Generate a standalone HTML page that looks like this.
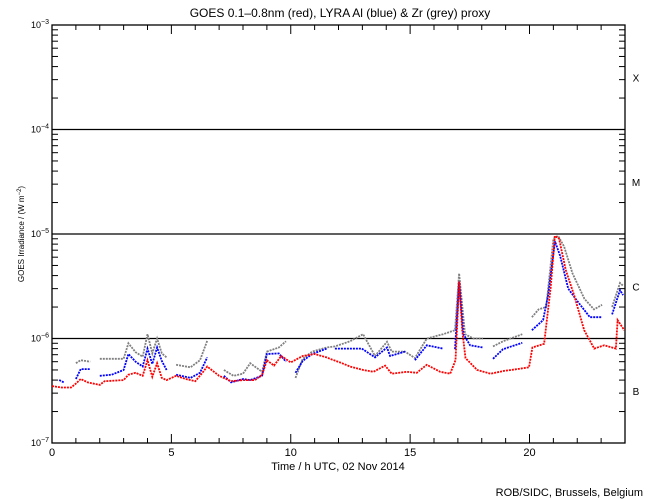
<!DOCTYPE html>
<html><head><meta charset="utf-8"><style>
body{margin:0;background:#fff}
svg{display:block;font-family:"Liberation Sans",sans-serif}
</style></head><body>
<svg id="chart" width="650" height="500" viewBox="0 0 650 500">
<g id="axes"></g><g id="series"></g>
<text x="340" y="17" font-size="12" text-anchor="middle">GOES 0.1–0.8nm (red), LYRA Al (blue) &amp; Zr (grey) proxy</text>
<text x="338" y="470" font-size="11" text-anchor="middle">Time / h UTC, 02 Nov 2014</text>
<text transform="translate(24,234) rotate(-90)" font-size="8" text-anchor="middle">GOES Irradiance / (W m<tspan dy="-3" font-size="6">−2</tspan><tspan dy="3">)</tspan></text>
<text x="643" y="496" font-size="11" text-anchor="end">ROB/SIDC, Brussels, Belgium</text>
</svg>
<script>
// Data (hours, W/m^2); null = gap
const redH=[0,0.4,0.8,1.0,1.2,1.5,2,2.2,3,3.2,3.5,3.8,4.0,4.2,4.4,4.6,4.8,5.2,5.6,6,6.3,6.5,7,7.5,8,8.5,8.8,9.0,9.3,9.6,10,10.5,11,11.5,11.64,12.06,12.48,13.04,13.46,13.95,14.23,14.86,15.28,15.7,16.26,16.68,16.9,17.06,17.18,17.32,17.81,18.37,18.93,19.49,19.98,20.12,20.61,20.89,21.06,21.24,21.52,21.87,22.29,22.71,23.13,23.62,23.69,23.97];
const redV=[3.5e-7,3.4e-7,3.4e-7,3.7e-7,4.1e-7,3.8e-7,3.6e-7,3.9e-7,4.0e-7,4.5e-7,4.7e-7,4.4e-7,6.2e-7,4.3e-7,5.8e-7,4.2e-7,4.0e-7,4.4e-7,4.1e-7,3.9e-7,4.7e-7,5.4e-7,4.4e-7,3.9e-7,4.0e-7,4.0e-7,4.5e-7,6.2e-7,5.5e-7,6.8e-7,5.9e-7,6.8e-7,7.1e-7,6.6e-7,6.4e-7,5.9e-7,5.4e-7,5.0e-7,4.8e-7,5.5e-7,4.6e-7,4.8e-7,4.7e-7,5.6e-7,4.8e-7,4.6e-7,6.2e-7,3.5e-6,1.2e-6,6.5e-7,5.0e-7,4.6e-7,4.9e-7,5.1e-7,5.3e-7,8.2e-7,8.9e-7,3.1e-6,9.6e-6,9.0e-6,4.5e-6,2.6e-6,1.2e-6,8.0e-7,8.6e-7,8.0e-7,1.5e-6,1.2e-6];
const blueH=[0.3,0.5,null,1.0,1.2,1.6,null,2.0,2.5,3.0,3.2,3.5,3.8,4.0,4.2,4.4,4.6,4.8,null,5.2,5.8,6.2,6.5,null,7.2,7.5,8.0,8.3,8.8,9.0,9.5,9.8,null,10.2,10.5,10.9,11.5,null,11.85,12.98,13.53,14.03,14.16,14.79,null,15.2,15.7,16.38,null,16.88,17.05,17.23,17.51,18.05,null,18.47,18.89,19.7,null,20.1,20.57,20.78,21.07,21.28,21.62,21.99,22.53,23.04,null,23.46,23.79,23.92];
const blueV=[4.0e-7,3.8e-7,null,4.1e-7,5.1e-7,5.1e-7,null,4.4e-7,4.5e-7,5.0e-7,7.1e-7,6.0e-7,5.4e-7,8.0e-7,5.7e-7,8.2e-7,6.1e-7,5.0e-7,null,4.5e-7,4.2e-7,4.7e-7,6.6e-7,null,4.4e-7,3.8e-7,4.1e-7,4.0e-7,4.4e-7,7.1e-7,7.2e-7,6.0e-7,null,4.7e-7,6.1e-7,7.1e-7,8.0e-7,null,8.0e-7,8.0e-7,6.6e-7,8.2e-7,6.8e-7,7.5e-7,null,6.2e-7,8.6e-7,8.0e-7,null,7.9e-7,3.5e-6,1.1e-6,8.6e-7,8.2e-7,null,6.4e-7,7.9e-7,9.1e-7,null,1.2e-6,1.5e-6,2.6e-6,8.5e-6,6.2e-6,3.0e-6,2.3e-6,1.6e-6,1.6e-6,null,1.7e-6,2.9e-6,2.6e-6];
const greyH=[0.5,null,1.0,1.2,1.6,null,2.0,3.0,3.2,3.5,3.8,4.0,4.2,4.4,4.6,4.8,null,5.2,5.8,6.2,6.5,null,7.2,7.6,8.0,8.3,8.8,9.0,9.5,9.8,null,10.2,10.5,10.9,11.5,11.85,12.48,13.03,13.53,14.03,14.23,14.79,15.2,15.7,16.38,16.88,17.05,17.3,17.65,18.05,null,18.47,18.89,19.7,null,20.1,20.38,20.7,21.0,21.2,21.45,21.8,22.3,22.7,23.04,null,23.46,23.79,23.92];
const greyV=[4.8e-7,null,5.8e-7,6.2e-7,6.0e-7,null,6.4e-7,6.4e-7,9.0e-7,7.4e-7,6.7e-7,1.1e-6,7.2e-7,1.0e-6,7.2e-7,6.6e-7,null,5.6e-7,5.3e-7,6.2e-7,9.5e-7,null,5.0e-7,4.4e-7,4.6e-7,5.8e-7,4.8e-7,7.5e-7,8.2e-7,9.4e-7,null,4.2e-7,6.4e-7,7.5e-7,8.2e-7,8.4e-7,9.4e-7,1.1e-6,6.8e-7,9.3e-7,7.5e-7,7.5e-7,6.5e-7,1.0e-6,1.1e-6,1.2e-6,4.2e-6,1.1e-6,1.0e-6,1.0e-6,null,8.4e-7,9.4e-7,1.1e-6,null,1.6e-6,1.9e-6,2.0e-6,9.0e-6,9.6e-6,7.6e-6,4.2e-6,2.4e-6,1.9e-6,2.1e-6,null,2.0e-6,3.4e-6,3.2e-6];
const xTicks=[0,5,10,15,20];
const yExps=[-7,-6,-5,-4,-3];
const classes=["B","C","M","X"];

const NS="http://www.w3.org/2000/svg";
const L=52,R=625,T=25,B=443;
const xS=h=>L+(R-L)*h/24;
const yS=v=>B-(Math.log10(v)+7)*(B-T)/4;
const axes=document.getElementById('axes'),ser=document.getElementById('series');
function mk(tag,at,parent,txt){const e=document.createElementNS(NS,tag);for(const k in at)e.setAttribute(k,at[k]);if(txt!=null)e.textContent=txt;parent.appendChild(e);return e;}

[-6,-5,-4].forEach(e=>{const y=yS(Math.pow(10,e));
 const ln=mk('line',{x1:L,x2:R,y1:y,y2:y,stroke:'#000','stroke-width':1.3},axes);
 
 });
const fr=mk('rect',{x:L,y:T,width:R-L,height:B-T,fill:'none',stroke:'#000','stroke-width':1.3},axes);


for(let h=0;h<=24;h++){const x=xS(h),len=(h%5==0)?9:5;
 mk('line',{x1:x,x2:x,y1:B,y2:B-len,stroke:'#000'},axes);
 mk('line',{x1:x,x2:x,y1:T,y2:T+len,stroke:'#000'},axes);}
xTicks.forEach(h=>{const t=mk('text',{x:xS(h),y:B+13,'font-size':11,'text-anchor':'middle'},axes,String(h));
 
 });
for(let e=-7;e<-3;e++)for(let m=2;m<=9;m++){const y=yS(m*Math.pow(10,e));
 mk('line',{x1:L,x2:L+6,y1:y,y2:y,stroke:'#000'},axes);
 mk('line',{x1:R,x2:R-6,y1:y,y2:y,stroke:'#000'},axes);}
yExps.forEach(e=>{const y=yS(Math.pow(10,e));
 mk('line',{x1:L,x2:L+10,y1:y,y2:y,stroke:'#000'},axes);
 mk('line',{x1:R,x2:R-10,y1:y,y2:y,stroke:'#000'},axes);
 const t=mk('text',{x:L-3,y:y+3,'font-size':9,'text-anchor':'end'},axes);
 mk('tspan',{},t,'10');mk('tspan',{dy:-4,'font-size':7},t,String(e).replace('-','\u2212'));
 
 });
classes.forEach((c,i)=>{const y=(yS(Math.pow(10,-7+i))+yS(Math.pow(10,-6+i)))/2;
 const t=mk('text',{x:636,y:y+4,'font-size':10,'text-anchor':'middle'},axes,c);
 
 });

function draw(H,V,col,name){let pts=[];const segs=[];
 for(let i=0;i<H.length;i++){if(H[i]==null){if(pts.length)segs.push(pts);pts=[];continue;}pts.push(xS(H[i]).toFixed(1)+','+yS(V[i]).toFixed(1));}
 if(pts.length)segs.push(pts);
 const g=mk('g',{},ser);
 
 
 segs.forEach(s=>mk('polyline',{points:s.join(' '),fill:'none',stroke:col,'stroke-width':1.8,'stroke-dasharray':'2 1'},g));}
draw(greyH,greyV,'#808080','zr-grey-series');
draw(blueH,blueV,'#0000ff','al-blue-series');
draw(redH,redV,'#ff0000','goes-red-series');
</script>
</body></html>
